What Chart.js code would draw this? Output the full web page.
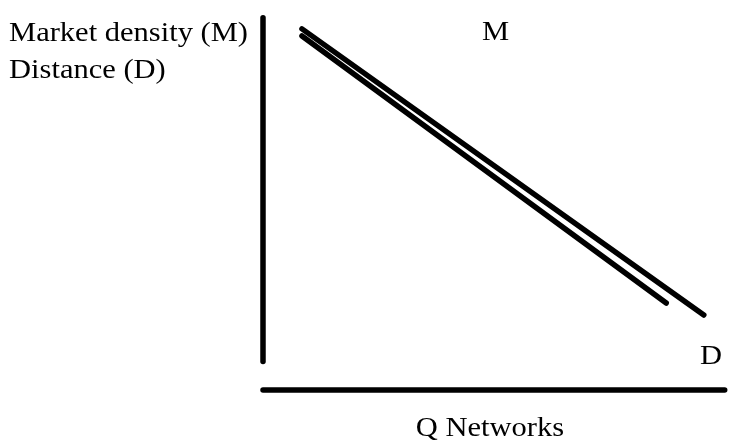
<!DOCTYPE html>
<html>
<head>
<meta charset="utf-8">
<script src="https://cdn.jsdelivr.net/npm/chart.js@4.4.1/dist/chart.umd.min.js"></script>
<style>
  body { margin: 0; background: #fff; }
  canvas { display: block; }
</style>
</head>
<body>
<canvas id="mycanvas" width="729" height="443"></canvas>
<script>
// curves (Q networks on x, level on y, both 0..10)
var mX = [0.84, 9.5];
var mY = [9.63, 2.0];
var dX = [0.84, 8.69];
var dY = [9.44, 2.32];

// axis strokes
var yAxisX = [0, 0];
var yAxisY = [0.76, 9.93];
var xAxisX = [0, 9.95];
var xAxisY = [0, 0];

// text
var yTitles = ["Market density (M)", "Distance (D)"];
var xTitle = "Q Networks";
var curveNames = ["M", "D"];
var curveLabelX = [4.72, 9.42];
var curveLabelY = [9.33, 0.7];

function pts(xs, ys) {
  var out = [];
  for (var i in xs) out.push({x: xs[i], y: ys[i]});
  return out;
}

function stroke(label, xs, ys) {
  return {
    label: label,
    data: pts(xs, ys),
    borderColor: "#000",
    borderWidth: 5.5,
    borderCapStyle: "round",
    pointRadius: 0,
    fill: false,
    clip: false
  };
}

// serif text, a little wider than normal like the original
var STRETCH = 1.09;
function txt(c, s, x, y, align) {
  var w = c.measureText(s).width * STRETCH;
  if (align === "center") x -= w / 2;
  c.save();
  c.translate(x, y);
  c.scale(STRETCH, 1);
  c.fillText(s, 0, 0);
  c.restore();
}

var textPlugin = {
  id: "texts",
  afterDraw: function(chart) {
    var c = chart.ctx;
    var sx = chart.scales.x, sy = chart.scales.y;
    c.save();
    c.fillStyle = "#000";
    c.font = "28px 'Liberation Serif'";
    c.textBaseline = "alphabetic";
    c.textAlign = "left";
    txt(c, yTitles[0], 9, 41);
    txt(c, yTitles[1], 9, 78);
    for (var i in curveNames) {
      txt(c, curveNames[i], sx.getPixelForValue(curveLabelX[i]), sy.getPixelForValue(curveLabelY[i]));
    }
    txt(c, xTitle, sx.getPixelForValue(4.89), sy.getPixelForValue(-1.22), "center");
    c.restore();
  }
};

var ctx = document.getElementById("mycanvas");
var chart = new Chart(ctx, {
  type: "line",
  data: {
    datasets: [
      stroke("M", mX, mY),
      stroke("D", dX, dY),
      stroke("yaxis", yAxisX, yAxisY),
      stroke("xaxis", xAxisX, xAxisY)
    ]
  },
  options: {
    responsive: false,
    animation: false,
    devicePixelRatio: 1,
    layout: { padding: { left: 263, right: 2, top: 15, bottom: 53 } },
    plugins: { legend: { display: false }, tooltip: { enabled: false }, title: { display: false } },
    scales: {
      x: { type: "linear", min: 0, max: 10, display: false },
      y: { type: "linear", min: 0, max: 10, display: false }
    }
  },
  plugins: [textPlugin]
});
</script>
</body>
</html>
